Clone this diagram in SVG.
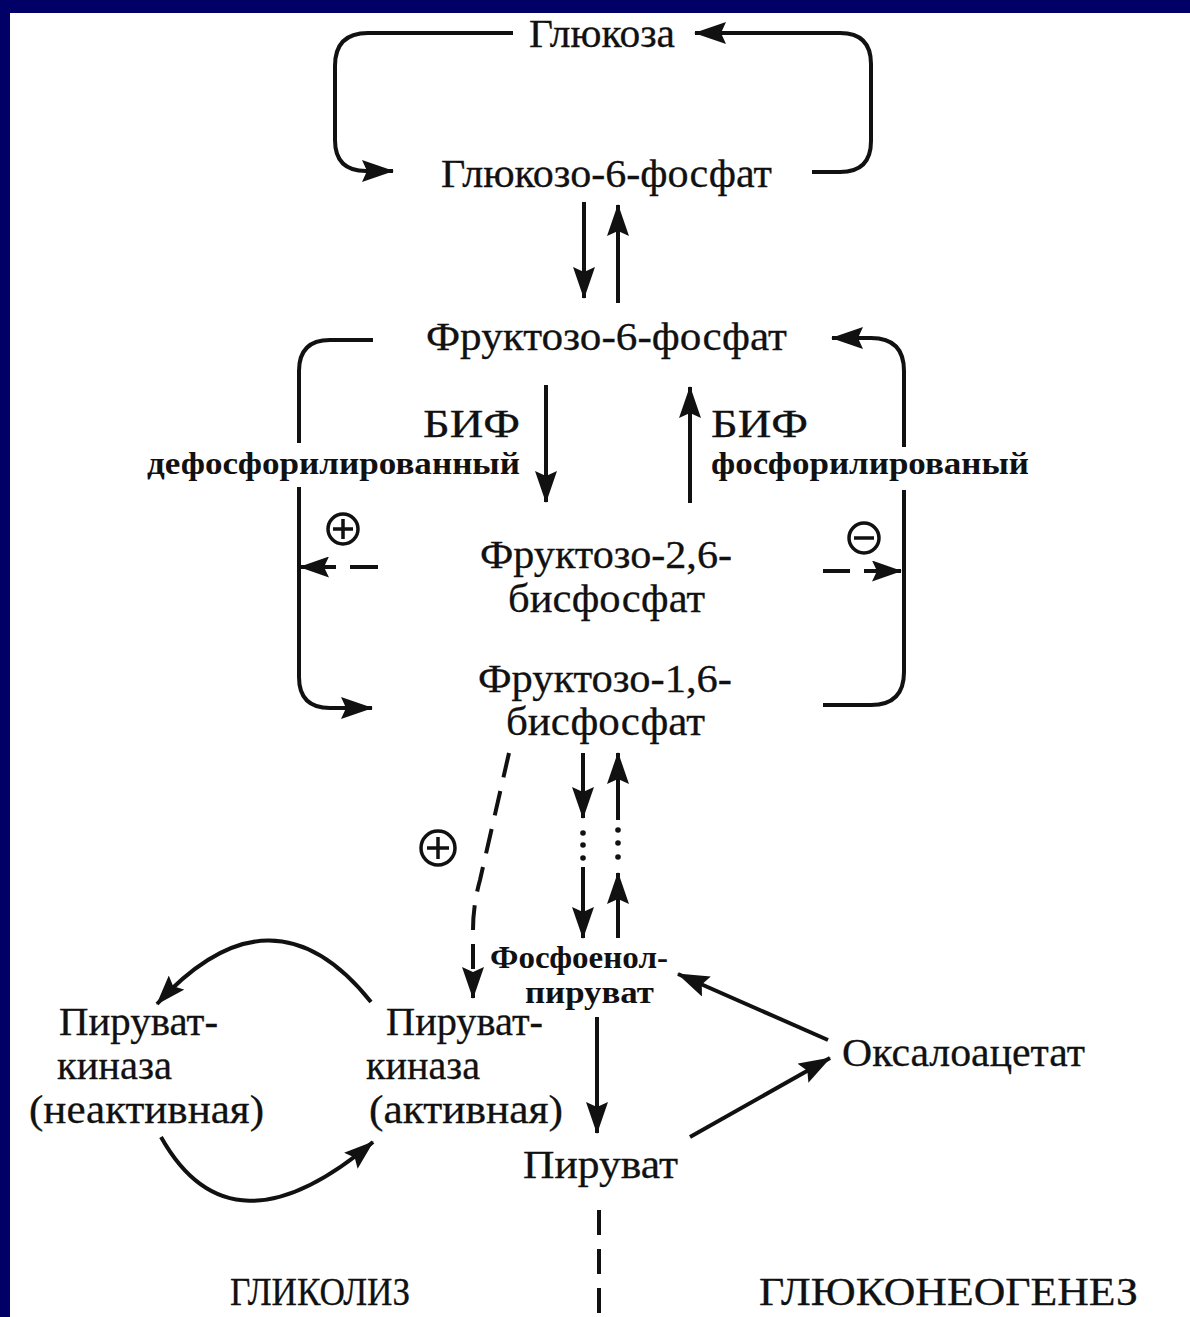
<svg xmlns="http://www.w3.org/2000/svg" width="1190" height="1317" viewBox="0 0 1190 1317">
<defs>
<style>
.t{font-family:"Liberation Serif","Times New Roman",serif;font-size:40px;fill:#111;stroke:#111;stroke-width:0.3}
.b{font-family:"Liberation Serif","Times New Roman",serif;font-size:31px;font-weight:bold;fill:#111}
.c{fill:none;stroke:#111;stroke-width:4}
.d{fill:none;stroke:#111;stroke-width:4;stroke-dasharray:25 14}
.a{marker-end:url(#ah)}
.s{marker-end:url(#sh)}
.sym{fill:none;stroke:#111;stroke-width:3.5}
</style>
<marker id="ah" viewBox="0 0 32 22" refX="31" refY="11" markerWidth="32" markerHeight="22" markerUnits="userSpaceOnUse" orient="auto">
<path d="M0,0 L32,11 L0,22 L5,11 z" fill="#111"/>
</marker>
<marker id="sh" viewBox="0 0 30 21" refX="29" refY="10.5" markerWidth="30" markerHeight="21" markerUnits="userSpaceOnUse" orient="auto">
<path d="M0,0 L30,10.5 L0,21 L5,10.5 z" fill="#111"/>
</marker>
</defs>
<rect x="0" y="0" width="1190" height="1317" fill="#ffffff"/>
<rect x="0" y="0" width="1190" height="13" fill="#000066"/>
<rect x="0" y="0" width="10" height="1317" fill="#000066"/>

<g id="connectors">
<path class="c a" d="M513,33 H368 Q335,33 335,66 V140 Q335,171 366,171 H393"/>
<path class="c a" d="M812,172 H840 Q871,172 871,141 V64 Q871,33 840,33 H695"/>
<path class="c a" d="M584,202 V298"/>
<path class="c a" d="M618,303 V205"/>
<path class="c" d="M373,340 H330 Q299,340 299,371 V443"/>
<path class="c a" d="M299,487 V677 Q299,708 330,708 H372"/>
<path class="c" d="M823,705 H871 Q904,705 904,672 V490"/>
<path class="c a" d="M904,447 V371 Q904,338 871,338 H832"/>
<path class="c a" d="M546,385 V502"/>
<path class="c a" d="M690,503 V387"/>
<path class="c" d="M350,567 H378"/>
<path class="c s" d="M336,567 H300"/>
<path class="c" d="M823,571 H850"/>
<path class="c s" d="M864,571 H901"/>
<path class="c a" d="M583,753 V818"/>
<circle cx="583" cy="833" r="2.8" fill="#111"/>
<circle cx="583" cy="845" r="2.8" fill="#111"/>
<circle cx="583" cy="858" r="2.8" fill="#111"/>
<path class="c a" d="M583,867 V938"/>
<path class="c a" d="M618,820 V753"/>
<circle cx="618" cy="830" r="2.8" fill="#111"/>
<circle cx="618" cy="843" r="2.8" fill="#111"/>
<circle cx="618" cy="857" r="2.8" fill="#111"/>
<path class="c a" d="M618,938 V873"/>
<path class="d a" d="M509,753 L480,880 Q473,905 473,930 V998"/>
<path class="c a" d="M597,1017 V1133"/>
<path class="c a" d="M828,1040 L678,974"/>
<path class="c a" d="M690,1137 L830,1058"/>
<path class="c s" d="M371,1002 Q272,878 157,1004"/>
<path class="c s" d="M161,1137 Q231,1262 373,1142"/>
<path class="d" d="M599,1210 V1317"/>
</g>

<g id="sym-plus-left">
<circle class="sym" cx="343" cy="529" r="15"/>
<path class="sym" d="M343,519 V539 M333,529 H353"/>
</g>
<g id="sym-minus-right">
<circle class="sym" cx="864" cy="538" r="15"/>
<path class="sym" d="M854,538 H874"/>
</g>
<g id="sym-plus-pk">
<circle class="sym" cx="438" cy="848" r="17"/>
<path class="sym" d="M438,837 V859 M427,848 H449"/>
</g>

<g id="n-glucose"><text class="t" x="529" y="47" textLength="146" lengthAdjust="spacingAndGlyphs">Глюкоза</text></g>
<g id="n-g6p"><text class="t" x="441" y="187" textLength="331" lengthAdjust="spacingAndGlyphs">Глюкозо-6-фосфат</text></g>
<g id="n-f6p"><text class="t" x="426" y="350" textLength="361" lengthAdjust="spacingAndGlyphs">Фруктозо-6-фосфат</text></g>
<g id="n-bif-left">
<text class="t" x="423" y="437" textLength="97" lengthAdjust="spacingAndGlyphs">БИФ</text>
<text class="b" x="147" y="474" textLength="373" lengthAdjust="spacingAndGlyphs">дефосфорилированный</text>
</g>
<g id="n-bif-right">
<text class="t" x="711" y="437" textLength="97" lengthAdjust="spacingAndGlyphs">БИФ</text>
<text class="b" x="711" y="474" textLength="318" lengthAdjust="spacingAndGlyphs">фосфорилированый</text>
</g>
<g id="n-f26bp">
<text class="t" x="480" y="568" textLength="252" lengthAdjust="spacingAndGlyphs">Фруктозо-2,6-</text>
<text class="t" x="508" y="612" textLength="197" lengthAdjust="spacingAndGlyphs">бисфосфат</text>
</g>
<g id="n-f16bp">
<text class="t" x="478" y="692" textLength="254" lengthAdjust="spacingAndGlyphs">Фруктозо-1,6-</text>
<text class="t" x="506" y="735" textLength="199" lengthAdjust="spacingAndGlyphs">бисфосфат</text>
</g>
<g id="n-pep">
<text class="b" x="490" y="968" textLength="178" lengthAdjust="spacingAndGlyphs">Фосфоенол-</text>
<text class="b" x="525" y="1003" textLength="129" lengthAdjust="spacingAndGlyphs">пируват</text>
</g>
<g id="n-pk-inactive">
<text class="t" x="59" y="1035" textLength="159" lengthAdjust="spacingAndGlyphs">Пируват-</text>
<text class="t" x="57" y="1079" textLength="115" lengthAdjust="spacingAndGlyphs">киназа</text>
<text class="t" x="29" y="1123" textLength="235" lengthAdjust="spacingAndGlyphs">(неактивная)</text>
</g>
<g id="n-pk-active">
<text class="t" x="386" y="1035" textLength="157" lengthAdjust="spacingAndGlyphs">Пируват-</text>
<text class="t" x="366" y="1079" textLength="114" lengthAdjust="spacingAndGlyphs">киназа</text>
<text class="t" x="369" y="1123" textLength="194" lengthAdjust="spacingAndGlyphs">(активная)</text>
</g>
<g id="n-pyruvate"><text class="t" x="523" y="1178" textLength="155" lengthAdjust="spacingAndGlyphs">Пируват</text></g>
<g id="n-oxaloacetate"><text class="t" x="842" y="1066" textLength="243" lengthAdjust="spacingAndGlyphs">Оксалоацетат</text></g>
<g id="n-glycolysis"><text class="t" x="230" y="1305" textLength="180" lengthAdjust="spacingAndGlyphs">ГЛИКОЛИЗ</text></g>
<g id="n-gluconeogenesis"><text class="t" x="759" y="1305" textLength="379" lengthAdjust="spacingAndGlyphs">ГЛЮКОНЕОГЕНЕЗ</text></g>
</svg>
